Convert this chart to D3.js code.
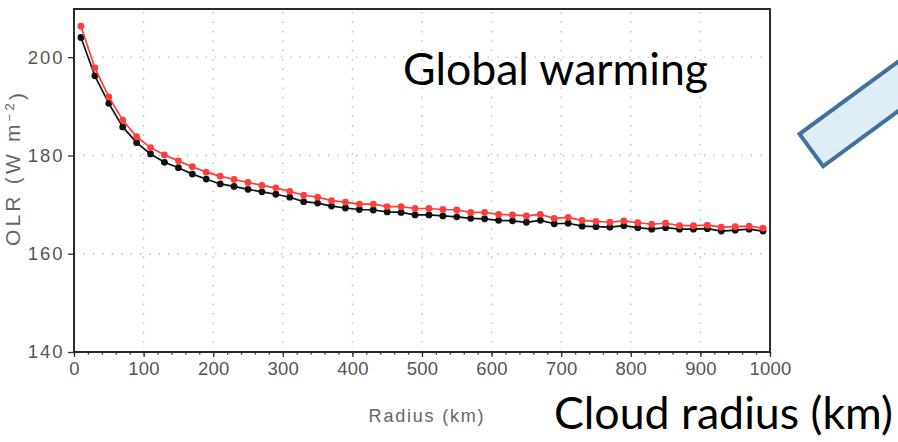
<!DOCTYPE html>
<html>
<head>
<meta charset="utf-8">
<script src="https://cdn.jsdelivr.net/npm/d3@7/dist/d3.min.js"></script>
<style>
  html, body { margin: 0; padding: 0; background: #fff; }
  svg { display: block; }
</style>
</head>
<body>
<svg id="chart" width="898" height="442"></svg>
<script>
// Cloud radius (km), sampled every 20 km
const radius = [10, 30, 50, 70, 90, 110, 130, 150, 170, 190,
  210, 230, 250, 270, 290, 310, 330, 350, 370, 390,
  410, 430, 450, 470, 490, 510, 530, 550, 570, 590,
  610, 630, 650, 670, 690, 710, 730, 750, 770, 790,
  810, 830, 850, 870, 890, 910, 930, 950, 970, 990];

// OLR (W m^-2), warmer climate
const olrWarm = [206.3, 197.8, 191.9, 187.2, 183.8, 181.6, 180.1, 178.9, 177.7, 176.6,
  175.8, 175.1, 174.5, 173.9, 173.4, 172.7, 171.9, 171.5, 170.8, 170.5,
  170.1, 170.1, 169.6, 169.6, 169.2, 169.2, 169.0, 168.9, 168.4, 168.4,
  168.0, 167.9, 167.7, 168.0, 167.2, 167.4, 166.8, 166.6, 166.4, 166.7,
  166.3, 166.0, 166.2, 165.7, 165.7, 165.8, 165.4, 165.5, 165.6, 165.2];

// OLR (W m^-2), control climate
const olrCtrl = [204.0, 196.2, 190.6, 185.8, 182.6, 180.3, 178.6, 177.5, 176.2, 175.2,
  174.2, 173.7, 173.1, 172.6, 172.1, 171.5, 170.6, 170.3, 169.7, 169.3,
  169.0, 168.9, 168.5, 168.4, 167.9, 167.9, 167.7, 167.5, 167.2, 167.1,
  166.8, 166.7, 166.4, 166.8, 166.1, 166.2, 165.6, 165.5, 165.4, 165.7,
  165.3, 165.0, 165.3, 165.0, 165.0, 165.1, 164.6, 164.8, 165.0, 164.6];

const xTicks = [0, 100, 200, 300, 400, 500, 600, 700, 800, 900, 1000];
const yTicks = [140, 160, 180, 200];

const svg = d3.select("#chart");
const plot = { left: 74, right: 770, top: 9, bottom: 352 };

const x = d3.scaleLinear().domain([0, 1000]).range([plot.left, plot.right]);
const y = d3.scaleLinear().domain([140, 209.8]).range([plot.bottom, plot.top]);

// dotted grid
const grid = svg.append("g").attr("stroke", "#b8b8b8").attr("stroke-width", 1.4)
  .attr("stroke-dasharray", "1.4,8").attr("fill", "none");
xTicks.slice(1, -1).forEach(t => {
  grid.append("line").attr("x1", x(t)).attr("x2", x(t))
    .attr("y1", plot.bottom).attr("y2", plot.top);
});
yTicks.slice(1).forEach(t => {
  grid.append("line").attr("x1", plot.left).attr("x2", plot.right)
    .attr("y1", y(t)).attr("y2", y(t));
});

const tickFont = "'Liberation Sans', Arial, sans-serif";

// axes
const xAxis = svg.append("g").attr("transform", `translate(0,${plot.bottom})`)
  .call(d3.axisBottom(x).tickValues(xTicks).tickSize(5).tickPadding(3).tickFormat(d3.format("d")));
const xMinor = svg.append("g").attr("transform", `translate(0,${plot.bottom})`)
  .call(d3.axisBottom(x).tickValues(d3.range(0, 1001, 20)).tickSize(2.5).tickFormat(""));
const yAxis = svg.append("g").attr("transform", `translate(${plot.left},0)`)
  .call(d3.axisLeft(y).tickValues(yTicks).tickSize(6).tickPadding(3.5).tickFormat(d3.format("d")));

[xAxis, xMinor, yAxis].forEach(g => {
  g.select(".domain").remove();
  g.selectAll(".tick line").attr("stroke", "#333").attr("stroke-width", 1.3);
  g.selectAll(".tick text").attr("fill", "#555")
    .attr("font-family", tickFont).attr("font-size", 18.5);
});
xAxis.selectAll(".tick text").attr("dy", "0.82em").attr("letter-spacing", 0.2);
yAxis.selectAll(".tick text").attr("letter-spacing", 2);

// frame
svg.append("rect").attr("x", plot.left).attr("y", plot.top)
  .attr("width", plot.right - plot.left).attr("height", plot.bottom - plot.top)
  .attr("fill", "none").attr("stroke", "#2a2a2a").attr("stroke-width", 2);

// series
const series = [
  { values: olrCtrl, color: "#111111" },
  { values: olrWarm, color: "#ff3d3d" }
];
const line = d3.line().x(d => x(d[0])).y(d => y(d[1]));
series.forEach(s => {
  const pts = radius.map((r, i) => [r, s.values[i]]);
  svg.append("path").datum(pts).attr("d", line)
    .attr("fill", "none").attr("stroke", s.color).attr("stroke-width", 1.7);
  svg.append("g").selectAll("circle").data(pts).join("circle")
    .attr("cx", d => x(d[0])).attr("cy", d => y(d[1])).attr("r", 3.4)
    .attr("fill", s.color);
});

// axis titles
svg.append("text")
  .attr("transform", "translate(20,168) rotate(-90)")
  .attr("text-anchor", "middle").attr("fill", "#666")
  .style("font-family", tickFont).style("font-size", "21px")
  .style("letter-spacing", "3.2px")
  .call(t => {
    t.append("tspan").text("OLR (W m");
    t.append("tspan").attr("dy", "-0.45em").style("font-size", "13px").text("−2");
    t.append("tspan").attr("dy", "0.45em").text(")");
  });

svg.append("text").attr("x", 427).attr("y", 422).attr("text-anchor", "middle")
  .attr("fill", "#666").style("font-family", tickFont).style("font-size", "18px")
  .style("letter-spacing", "1.8px")
  .text("Radius (km)");

// annotations
const annFont = "Lato, 'Open Sans', sans-serif";
svg.append("text").attr("x", 403).attr("y", 85)
  .attr("fill", "#000").style("font-family", annFont).style("font-size", "44px")
  .attr("textLength", 305).attr("lengthAdjust", "spacingAndGlyphs")
  .text("Global warming");
svg.append("text").attr("x", 554).attr("y", 429)
  .attr("fill", "#000").style("font-family", annFont).style("font-size", "44px")
  .attr("textLength", 339).attr("lengthAdjust", "spacingAndGlyphs")
  .text("Cloud radius (km)");

// arrow body, pointing up-right and running off the edge
svg.append("rect")
  .attr("x", 0).attr("y", 0).attr("width", 220).attr("height", 40)
  .attr("transform", "translate(799.5,134) rotate(-36.3)")
  .attr("fill", "#deedf6").attr("stroke", "#41719c").attr("stroke-width", 4);
</script>
</body>
</html>
